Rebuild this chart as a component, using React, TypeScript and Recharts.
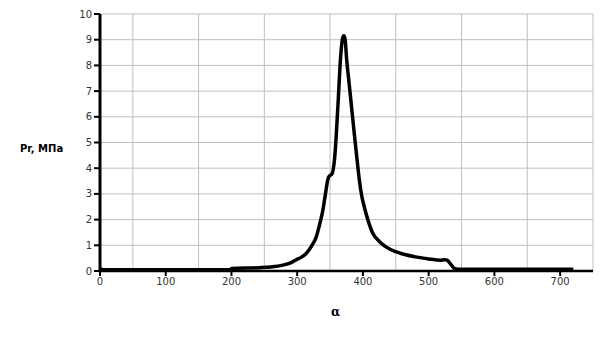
import React from "react";
import { LineChart, Line, XAxis, YAxis, CartesianGrid, ReferenceLine } from "recharts";

const alphaValues = [0, 5, 100, 199, 200, 243, 260, 278, 290, 298, 307, 314, 322, 329, 334, 339, 343, 347, 350, 353, 357, 362, 366, 369, 371, 373, 375, 379, 383, 387, 391, 394.5, 398, 402, 408, 415, 425, 435, 450, 465, 480, 500, 518, 524, 528, 534, 539, 545, 600, 720];
const pressureValues = [0.1, 0.05, 0.05, 0.05, 0.1, 0.13, 0.16, 0.23, 0.32, 0.43, 0.55, 0.69, 0.98, 1.33, 1.8, 2.36, 3.0, 3.6, 3.72, 3.78, 4.4, 6.45, 8.3, 9.05, 9.15, 9.0, 8.3, 7.3, 6.3, 5.3, 4.35, 3.55, 2.95, 2.5, 1.95, 1.47, 1.15, 0.94, 0.75, 0.63, 0.55, 0.47, 0.42, 0.44, 0.42, 0.25, 0.1, 0.07, 0.07, 0.07];

const xTicks = [0, 100, 200, 300, 400, 500, 600, 700];
const yTicks = [0, 1, 2, 3, 4, 5, 6, 7, 8, 9, 10];
const xGridValues = [50, 150, 250, 350, 450, 550, 650, 750];

const yLabel = "Pr, МПа";
const xLabel = "α";

const data = alphaValues.map((a, i) => ({ alpha: a, p: pressureValues[i] }));

const tickStyle = { fontFamily: "DejaVu Sans", fontSize: 10, fill: "#333" };

export default function App() {
  return (
    <div style={{ position: "absolute", left: 0, top: 0, width: 605, height: 340, background: "#fff" }}>
      <LineChart width={605} height={340} data={data} margin={{ top: 14, right: 12, bottom: 39, left: 60 }}>
        <CartesianGrid vertical={false} stroke="#bfbfbf" strokeWidth={1} />
        {xGridValues.map((v) => (
          <ReferenceLine key={v} x={v} stroke="#bfbfbf" strokeWidth={1} />
        ))}
        <XAxis
          dataKey="alpha"
          type="number"
          domain={[0, 750]}
          ticks={xTicks}
          height={30}
          axisLine={{ stroke: "#000", strokeWidth: 2.5 }}
          tickLine={{ stroke: "#000", strokeWidth: 2 }}
          tickSize={5}
          tick={tickStyle}
          interval={0}
        />
        <YAxis
          type="number"
          domain={[0, 10]}
          ticks={yTicks}
          width={40}
          axisLine={{ stroke: "#000", strokeWidth: 3 }}
          tickLine={{ stroke: "#000", strokeWidth: 2 }}
          tickSize={6}
          tick={tickStyle}
          interval={0}
        />
        <Line
          dataKey="p"
          type="monotone"
          stroke="#000"
          strokeWidth={3.5}
          dot={false}
          isAnimationActive={false}
        />
      </LineChart>
      <div style={{ position: "absolute", left: 20, top: 143, fontFamily: "DejaVu Sans", fontSize: 10, fontWeight: "bold", color: "#000", whiteSpace: "nowrap" }}>
        {yLabel}
      </div>
      <div style={{ position: "absolute", left: 331, top: 305, fontFamily: "DejaVu Serif", fontSize: 12, fontWeight: "bold", color: "#000" }}>
        {xLabel}
      </div>
    </div>
  );
}
